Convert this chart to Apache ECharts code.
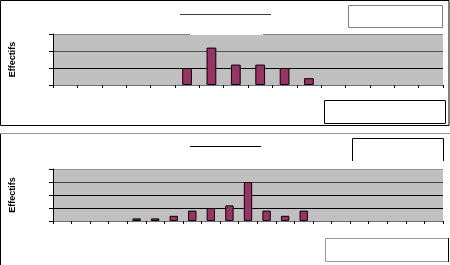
<!DOCTYPE html>
<html>
<head>
<meta charset="utf-8">
<script src="https://cdn.jsdelivr.net/npm/echarts@6/dist/echarts.min.js"></script>
<style>
html,body{margin:0;padding:0;background:#fff;}
#chart{width:450px;height:265px;}
</style>
</head>
<body>
<div id="chart"></div>
<script>
// Top chart: 16 classes
var topCategories = ['1','2','3','4','5','6','7','8','9','10','11','12','13','14','15','16'];
var topValues = [0,0,0,0,0,5,11,6,6,5,2,0,0,0,0,0];
// Bottom chart: 21 classes
var bottomCategories = ['1','2','3','4','5','6','7','8','9','10','11','12','13','14','15','16','17','18','19','20','21'];
var bottomValues = [0,0,0,0,1,1,2,4,5,6,15,4,2,4,0,0,0,0,0,0,0];
var yTitle = 'Effectifs';

// empty classes draw no bar (avoid outlines of zero-height bars)
function barData(values) {
  return values.map(function (v) { return v === 0 ? '-' : v; });
}

var chart = echarts.init(document.getElementById('chart'), null, {renderer: 'canvas'});

function yAxisCfg(gridIndex, max, colors) {
  return {
    type: 'value', gridIndex: gridIndex, min: 0, max: max, interval: 5,
    name: yTitle, nameLocation: 'middle', nameRotate: 90, nameGap: 36,
    nameTextStyle: {fontFamily: 'Liberation Sans, Arial', fontWeight: 'bold', fontSize: 9, color: '#000'},
    axisLine: {show: true, lineStyle: {color: '#000', width: 1}},
    axisTick: {show: true, length: 4, lineStyle: {color: '#000'}},
    axisLabel: {show: false},
    splitLine: {show: true, lineStyle: {color: colors, width: 1}}
  };
}
function xAxisCfg(gridIndex, cats) {
  return {
    type: 'category', gridIndex: gridIndex, data: cats, boundaryGap: true,
    axisLine: {show: true, lineStyle: {color: '#707070', width: 1}},
    axisTick: {show: true, length: 3, lineStyle: {color: '#000'}},
    axisLabel: {show: false},
    splitLine: {show: false}
  };
}

chart.setOption({
  animation: false,
  grid: [
    {left: 49, top: 34, width: 394, height: 51, show: true, backgroundColor: '#c0c0c0', borderWidth: 0},
    {left: 49, top: 169, width: 394, height: 52, show: true, backgroundColor: '#c0c0c0', borderWidth: 0}
  ],
  xAxis: [xAxisCfg(0, topCategories), xAxisCfg(1, bottomCategories)],
  yAxis: [
    yAxisCfg(0, 15, ['#707070', '#000', '#505050', '#808080']),
    yAxisCfg(1, 20, ['#707070', '#000', '#000', '#404040', '#909090'])
  ],
  series: [
    {type: 'bar', xAxisIndex: 0, yAxisIndex: 0, data: barData(topValues), barWidth: '40%',
     itemStyle: {color: '#993366', borderColor: '#000', borderWidth: 1}},
    {type: 'bar', xAxisIndex: 1, yAxisIndex: 1, data: barData(bottomValues), barWidth: '45%',
     itemStyle: {color: '#993366', borderColor: '#000', borderWidth: 1}}
  ],
  graphic: [
    {type: 'rect', silent: true, z: 100, shape: {x: 0.5, y: 0.5, width: 448.5, height: 125}, style: {fill: 'none', stroke: '#000', lineWidth: 1}},
    {type: 'line', silent: true, z: 100, shape: {x1: 180, y1: 14.5, x2: 271, y2: 14.5}, style: {stroke: '#404040', lineWidth: 1}},
    {type: 'rect', silent: true, z: 100, shape: {x: 190, y: 31, width: 73, height: 4}, style: {fill: '#fff'}},
    {type: 'rect', silent: true, z: 100, shape: {x: 348.5, y: 5.5, width: 94, height: 22}, style: {fill: '#fff', stroke: '#808080', lineWidth: 1}},
    {type: 'rect', silent: true, z: 100, shape: {x: 324.5, y: 100.5, width: 121, height: 23}, style: {fill: '#fff', stroke: '#000', lineWidth: 1}},
    {type: 'line', silent: true, z: 100, shape: {x1: 0, y1: 133.5, x2: 450, y2: 133.5}, style: {stroke: '#999', lineWidth: 1}},
    {type: 'line', silent: true, z: 100, shape: {x1: 0.5, y1: 134, x2: 0.5, y2: 265}, style: {stroke: '#000', lineWidth: 1}},
    {type: 'line', silent: true, z: 100, shape: {x1: 190, y1: 146.5, x2: 261, y2: 146.5}, style: {stroke: '#000', lineWidth: 1}},
    {type: 'polyline', silent: true, z: 100, shape: {points: [[352.5, 161], [352.5, 138.5], [443.5, 138.5], [443.5, 161]]}, style: {fill: 'none', stroke: '#000', lineWidth: 1}},
    {type: 'rect', silent: true, z: 100, shape: {x: 325.5, y: 238.5, width: 123, height: 23}, style: {fill: '#fff', stroke: '#999', lineWidth: 1}},
    {type: 'line', silent: true, z: 101, shape: {x1: 448.5, y1: 238, x2: 448.5, y2: 262}, style: {stroke: '#000', lineWidth: 1}}
  ]
});
</script>
</body>
</html>
